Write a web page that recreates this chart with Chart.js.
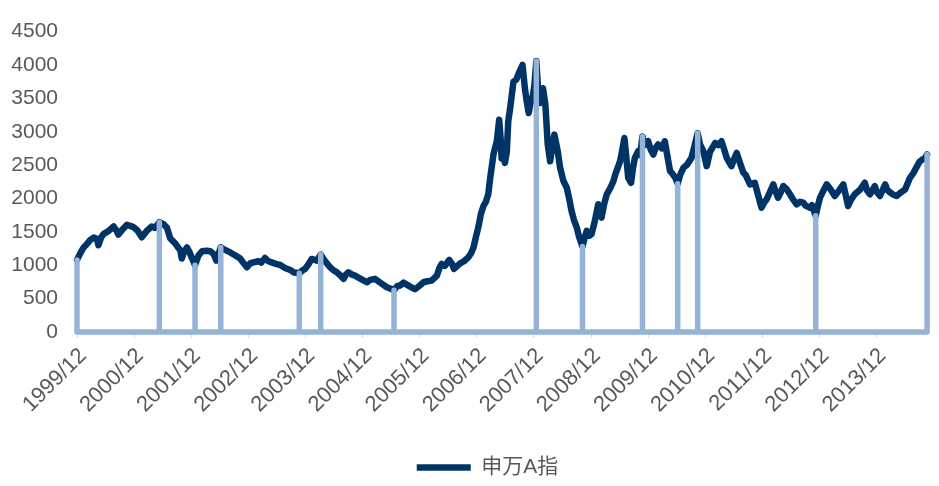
<!DOCTYPE html>
<html>
<head>
<meta charset="utf-8">
<script src="https://cdn.jsdelivr.net/npm/chart.js@4.4.1/dist/chart.umd.min.js"></script>
<style>
  body { margin: 0; background: #fff; }
  #chartBox { width: 939px; height: 486px; }
</style>
</head>
<body>
<div id="chartBox"><canvas id="myChart"></canvas></div>
<script>
// 月份序号 (0 = 1999/12) 와 지수값
var months = [0, 0.7, 1.4, 2.1, 2.8, 3.5, 4.2, 4.5, 5.1, 5.6, 6.6, 7.7, 8.3, 8.7, 9.5, 10.5, 11.2, 11.9, 12.7, 13.6,
  14.6, 15.7, 16.4, 17.3, 18.1, 18.9, 19.6, 20.6, 21.3, 21.7, 22.0, 22.5, 23.1, 23.6, 24.8, 25.5, 26.3, 27.3, 28.0, 28.7,
  29.3, 30.2, 31.1, 32.2, 33.2, 34.3, 34.9, 35.7, 36.4, 37.1, 38.1, 38.7, 39.5, 40.2, 40.9, 41.8, 42.7, 43.7, 44.8, 45.6,
  46.7, 47.3, 47.9, 48.6, 49.3, 50.4, 51.2, 52.1, 53.2, 53.8, 54.6, 55.3, 56.0, 56.5, 57.0, 57.8, 58.4, 59.5, 60.9, 61.6,
  62.6, 63.7, 65.1, 65.8, 66.6, 67.3, 67.9, 68.6, 69.0, 70.0, 71.0, 71.9, 72.8, 73.6, 74.5, 75.6, 76.1, 76.6, 77.3, 78.2,
  78.8, 79.2, 79.9, 80.5, 81.3, 82.2, 82.8, 83.3, 83.8, 84.3, 84.9, 85.4, 85.9, 86.4, 86.8, 87.5, 87.8, 88.2, 88.7, 89.0,
  89.2, 89.6, 89.9, 90.3, 90.6, 91.0, 91.7, 92.3, 92.8, 93.6, 94.1, 94.5, 94.9, 95.2, 95.8, 96.1, 96.5, 96.9, 97.3, 97.9,
  98.4, 98.9, 99.4, 99.8, 100.3, 101.0, 101.5, 102.2, 102.9, 103.4, 103.9, 104.4, 105.0, 105.5, 106.2, 106.6, 107.1, 107.6, 108.1, 108.8,
  109.5, 110.2, 110.7, 111.3, 112.0, 112.7, 113.1, 113.8, 114.1, 114.5, 115.0, 115.3, 115.8, 116.4, 116.8, 117.2, 117.9, 118.3, 118.8, 119.3,
  120.0, 120.6, 121.1, 121.6, 122.1, 122.9, 123.5, 124.0, 124.6, 125.0, 125.7, 126.2, 126.7, 127.4, 128.1, 129.1, 129.6, 130.4, 130.9, 131.6,
  132.3, 133.0, 134.1, 134.7, 135.4, 135.9, 136.5, 137.5, 138.0, 138.6, 139.3, 140.0, 140.5, 141.4, 142.4, 143.1, 143.8, 144.3, 144.9, 145.6,
  146.3, 146.8, 147.3, 147.9, 148.4, 149.1, 149.8, 150.4, 151.2, 151.9, 152.6, 153.1, 154.0, 154.4, 155.2, 155.7, 156.1, 156.7, 157.5, 158.2,
  159.2, 160.1, 161.0, 161.5, 162.0, 162.6, 163.4, 164.5, 165.5, 166.0, 166.6, 167.6, 168.0, 168.7, 169.8, 170.2, 170.9, 171.4, 172.2, 172.9,
  174.0, 175.0, 175.7, 176.5, 177.0, 177.6, 178.1, 178.6];
var values = [1080, 1180, 1267, 1320, 1380, 1415, 1392, 1300, 1420, 1470, 1510, 1580, 1520, 1460, 1530, 1605, 1590, 1570, 1520, 1420,
  1510, 1580, 1560, 1645, 1620, 1560, 1400, 1330, 1260, 1230, 1100, 1200, 1267, 1200, 1000, 1143, 1210, 1218, 1210, 1168,
  1069, 1270, 1230, 1192, 1150, 1100, 1040, 969, 1030, 1043, 1060, 1040, 1109, 1060, 1043, 1020, 1004, 960, 930, 890,
  880, 920, 945, 1010, 1094, 1069, 1160, 1060, 969, 930, 894, 850, 796, 860, 894, 860, 845, 800, 745, 780,
  796, 740, 671, 650, 625, 690, 696, 740, 721, 680, 640, 690, 745, 760, 770, 845, 950, 1019, 990, 1079,
  1020, 945, 990, 1028, 1060, 1118, 1180, 1267, 1420, 1565, 1780, 1888, 1950, 2063, 2300, 2659, 2750, 2857, 3180, 2900,
  2600, 2640, 2534, 2700, 3155, 3353, 3751, 3780, 3875, 4000, 3651, 3450, 3280, 3400, 3553, 3700, 4060, 3600, 3430, 3651,
  3404, 2808, 2559, 2750, 2957, 2708, 2459, 2261, 2161, 2000, 1814, 1680, 1565, 1420, 1280, 1400, 1516, 1440, 1466, 1665,
  1913, 1714, 1900, 2063, 2150, 2261, 2361, 2500, 2559, 2700, 2906, 2700, 2310, 2235, 2450, 2608, 2708, 2650, 2930, 2800,
  2857, 2720, 2659, 2760, 2808, 2750, 2857, 2650, 2410, 2380, 2310, 2220, 2350, 2459, 2500, 2608, 2750, 2980, 2808, 2708,
  2484, 2700, 2832, 2800, 2857, 2750, 2608, 2484, 2580, 2683, 2530, 2385, 2350, 2211, 2235, 2050, 1863, 1930, 1988, 2100,
  2211, 2100, 2012, 2100, 2186, 2140, 2063, 1990, 1913, 1950, 1937, 1890, 1863, 1900, 1740, 1900, 2012, 2100, 2211, 2150,
  2037, 2120, 2211, 2050, 1888, 1980, 2063, 2130, 2235, 2120, 2063, 2186, 2100, 2037, 2211, 2130, 2086, 2060, 2037, 2080,
  2137, 2310, 2380, 2484, 2550, 2584, 2600, 2660];

// 顶部/底部 转折点
var turnMonths = [0, 17.3, 24.8, 30.2, 46.7, 51.2, 66.6, 96.5, 106.2, 118.8, 126.2, 130.4, 155.2, 178.6];
var turnValues = [1080, 1645, 1000, 1270, 880, 1160, 625, 4060, 1280, 2930, 2220, 2980, 1740, 2660];

var yearLabels = ['1999/12', '2000/12', '2001/12', '2002/12', '2003/12', '2004/12', '2005/12',
  '2006/12', '2007/12', '2008/12', '2009/12', '2010/12', '2011/12', '2012/12', '2013/12'];

var lineData = [];
for (var i = 0; i < months.length; i++) {
  lineData.push({ x: months[i], y: values[i] });
}

// 竖线: 0 -> 值 -> 0
var turnData = [];
for (var j = 0; j < turnMonths.length; j++) {
  turnData.push({ x: turnMonths[j], y: 0 });
  turnData.push({ x: turnMonths[j], y: turnValues[j] });
  turnData.push({ x: turnMonths[j], y: 0 });
}

// 범례를 오른쪽 아래로 조금 이동
var legendShift = {
  id: 'legendShift',
  afterLayout: function (chart) {
    chart.legend.left += 23;
    chart.legend.right += 23;
    chart.legend.top += 2;
    chart.legend.bottom += 2;
  }
};

Chart.defaults.font.family = "'Liberation Sans', Arial, 'Noto Sans CJK SC', sans-serif";
Chart.defaults.color = '#595959';

var ctx = document.getElementById('myChart').getContext('2d');
var myChart = new Chart(ctx, {
  type: 'line',
  plugins: [legendShift],
  data: {
    datasets: [
      {
        label: '转折点',
        data: turnData,
        borderColor: '#95B3D7',
        backgroundColor: '#95B3D7',
        borderWidth: 5.5,
        borderJoinStyle: 'round',
        borderCapStyle: 'round',
        pointRadius: 0,
        tension: 0,
        clip: false
      },
      {
        label: '申万A指',
        data: lineData,
        borderColor: '#003466',
        backgroundColor: '#003466',
        borderWidth: 6.5,
        borderJoinStyle: 'round',
        borderCapStyle: 'round',
        pointRadius: 0,
        tension: 0,
        clip: false
      }
    ]
  },
  options: {
    responsive: true,
    maintainAspectRatio: false,
    animation: false,
    devicePixelRatio: 1,
    layout: { padding: { left: 0, right: 10, top: 30, bottom: 0 } },
    plugins: {
      tooltip: { enabled: false },
      legend: {
        position: 'bottom',
        labels: {
          filter: function (item) { return item.datasetIndex === 1; },
          usePointStyle: true,
          pointStyle: 'line',
          pointStyleWidth: 54,
          boxHeight: 21,
          font: { size: 21 },
          color: '#595959',
          padding: 4
        }
      }
    },
    scales: {
      x: {
        type: 'linear',
        min: 0,
        max: 179,
        grid: {
          display: true,
          drawOnChartArea: false,
          drawTicks: true,
          tickLength: 6,
          color: '#D9D9D9'
        },
        border: { display: false },
        ticks: {
          stepSize: 12,
          includeBounds: false,
          autoSkip: false,
          maxRotation: 45,
          minRotation: 45,
          padding: 5,
          labelOffset: 6,
          font: { size: 22 },
          color: '#595959',
          callback: function (v) {
            return v % 12 === 0 ? yearLabels[v / 12] : '';
          }
        },
        afterFit: function (scale) { scale.height = 119; }
      },
      y: {
        min: 0,
        max: 4500,
        grid: { display: false, drawTicks: false },
        border: { display: false },
        ticks: {
          stepSize: 500,
          padding: 19,
          font: { size: 21 },
          color: '#595959',
          callback: function (v) { return String(v); }
        },
        afterFit: function (scale) { scale.width = 77; }
      }
    }
  }
});
</script>
</body>
</html>
